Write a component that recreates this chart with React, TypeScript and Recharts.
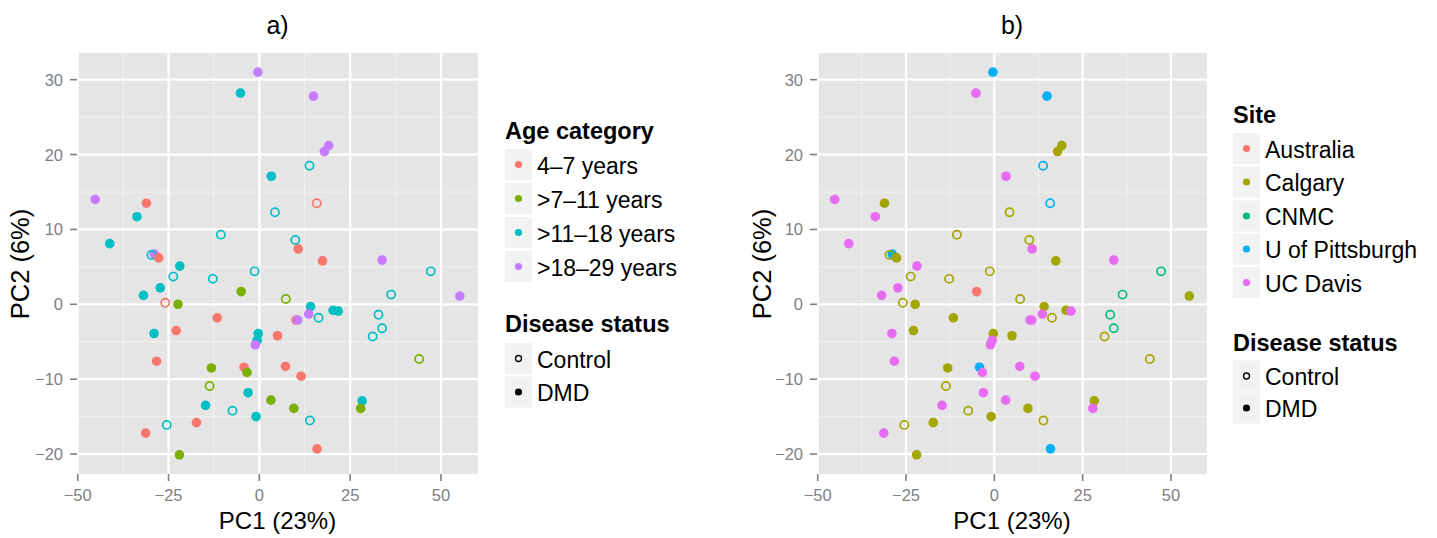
import React from 'react';
import { ScatterChart, Scatter, XAxis, YAxis, CartesianGrid } from 'recharts';

const FONT = '"Liberation Sans", Arial, Helvetica, sans-serif';

// ---- category levels ----
const A1 = '4–7 years';
const A2 = '>7–11 years';
const A3 = '>11–18 years';
const A4 = '>18–29 years';
const ageLevels = [A1, A2, A3, A4];
const ageColors = ['#F8766D', '#7CAE00', '#00BFC4', '#C77CFF'];

const AUS = 'Australia';
const CAL = 'Calgary';
const CNM = 'CNMC';
const PIT = 'U of Pittsburgh';
const UCD = 'UC Davis';
const siteLevels = [AUS, CAL, CNM, PIT, UCD];
const siteColors = ['#F8766D', '#A3A500', '#00BF7D', '#00B0F6', '#E76BF3'];

const C = 'Control';
const D = 'DMD';
const statusLevels = [C, D];

// ---- data ----
const pc1 = [
  -0.4, -5.2, 14.9, 19.1, 17.9, 13.8, 3.3, -45.2, -31.1, 15.8,
  -33.7, 4.3, -10.6, -41.2, 9.9, 10.7, -28.9, -29.7, -27.7, 17.4,
  33.8, -21.9, -23.7, -12.8, -1.3, 47.2, -27.3, -31.9, -5.0, 7.3,
  36.3, 55.2, -25.9, -22.4, 14.1, 20.3, 21.7, 32.8, 13.6, 16.3,
  10.1, 10.6, -11.6, -22.9, -29.0, -0.3, -0.6, -1.1, 5.0, 31.2,
  33.8, -28.3, 44.0, -13.2, -4.2, -3.4, 7.2, 11.5, -13.7, -3.1,
  3.2, -14.8, 9.5, 28.3, 27.9, -7.4, -0.9, 13.9, -25.5, -17.3,
  -31.3, -22.0, 15.9,
];
const pc2 = [
  31.0, 28.2, 27.8, 21.2, 20.4, 18.5, 17.1, 14.0, 13.5, 13.5,
  11.7, 12.3, 9.3, 8.1, 8.6, 7.4, 6.7, 6.6, 6.2, 5.8,
  5.9, 5.1, 3.7, 3.4, 4.4, 4.4, 2.2, 1.2, 1.7, 0.7,
  1.3, 1.1, 0.2, 0.0, -0.3, -0.8, -0.9, -1.4, -1.3, -1.8,
  -2.1, -2.1, -1.8, -3.5, -3.9, -3.9, -4.8, -5.4, -4.2, -4.3,
  -3.2, -7.6, -7.3, -8.5, -8.4, -9.1, -8.3, -9.6, -10.9, -11.8,
  -12.8, -13.5, -13.9, -12.9, -13.9, -14.2, -15.0, -15.5, -16.1, -15.8,
  -17.2, -20.1, -19.3,
];
const ageCategory = [
  A4, A3, A4, A4, A4, A3, A3, A4, A1, A1,
  A3, A3, A3, A3, A3, A1, A4, A3, A1, A1,
  A4, A3, A3, A3, A3, A3, A3, A3, A2, A2,
  A3, A4, A1, A2, A3, A3, A3, A3, A4, A3,
  A1, A4, A1, A1, A3, A3, A3, A4, A1, A3,
  A3, A1, A2, A2, A1, A2, A1, A1, A2, A3,
  A2, A3, A2, A3, A2, A3, A3, A3, A3, A1,
  A1, A2, A1,
];
const site = [
  PIT, UCD, PIT, CAL, CAL, PIT, UCD, UCD, CAL, PIT,
  UCD, CAL, CAL, UCD, CAL, UCD, PIT, CAL, CAL, CAL,
  UCD, UCD, CAL, CAL, CAL, CNM, UCD, UCD, AUS, CAL,
  CNM, CAL, CAL, CAL, CAL, CAL, UCD, CNM, UCD, CAL,
  UCD, UCD, CAL, CAL, UCD, CAL, UCD, UCD, CAL, CAL,
  CNM, UCD, CAL, CAL, PIT, UCD, UCD, UCD, CAL, UCD,
  UCD, UCD, CAL, CAL, UCD, CAL, CAL, CAL, CAL, CAL,
  UCD, CAL, PIT,
];
const diseaseStatus = [
  D, D, D, D, D, C, D, D, D, C,
  D, C, C, D, C, D, D, C, D, D,
  D, D, C, C, C, C, D, D, D, C,
  C, D, C, D, D, D, D, C, D, C,
  D, D, D, D, D, D, D, D, D, C,
  C, D, C, D, D, D, D, D, C, D,
  D, D, D, D, D, C, D, C, C, D,
  D, D, D,
];

const xTicks = [-50, -25, 0, 25, 50];
const yTicks = [-20, -10, 0, 10, 20, 30];
const xMinor = [-37.5, -12.5, 12.5, 37.5];
const yMinor = [-15, -5, 5, 15, 25];
const xDomain = [-50.2, 60.2];
const yDomain = [-22.66, 33.56];

const points = pc1.map((x, i) => ({
  x,
  y: pc2[i],
  age: ageCategory[i],
  site: site[i],
  status: diseaseStatus[i],
}));

const fmt = (v: number) => String(v).replace('-', '\u2212');
const TICK_COLOR = '#7F7F7F';

const XTick = (props: any) => {
  const { x, y, payload } = props;
  return (
    <text x={x} y={y + 20} textAnchor="middle" fill={TICK_COLOR} fontSize={16.5} fontFamily={FONT}>
      {fmt(payload.value)}
    </text>
  );
};
const YTick = (props: any) => {
  const { x, y, payload } = props;
  return (
    <text x={x} y={y + 6} textAnchor="end" fill={TICK_COLOR} fontSize={16.5} fontFamily={FONT}>
      {fmt(payload.value)}
    </text>
  );
};

function makeShape(colorOf: (p: any) => string) {
  return (props: any) => {
    const { cx, cy, payload } = props;
    const col = colorOf(payload);
    if (payload.status === C) {
      return <circle cx={cx} cy={cy} r={4.1} fill="none" stroke={col} strokeWidth={1.7} />;
    }
    return <circle cx={cx} cy={cy} r={4.8} fill={col} stroke="none" />;
  };
}

function Panel({ left, width, rightMargin, colorOf }: any) {
  return (
    <div style={{ position: 'absolute', left, top: 0 }}>
      <ScatterChart width={width} height={538} margin={{ top: 53, right: rightMargin, bottom: 14, left: 27 }}>
        <CartesianGrid fill="#E5E5E5" stroke="#F2F2F2" strokeWidth={1} horizontalValues={yMinor} verticalValues={xMinor} />
        <CartesianGrid stroke="#FFFFFF" strokeWidth={2.2} horizontalValues={yTicks} verticalValues={xTicks} />
        <XAxis
          type="number"
          dataKey="x"
          domain={xDomain}
          ticks={xTicks}
          allowDataOverflow
          axisLine={false}
          tickLine={{ stroke: TICK_COLOR, strokeWidth: 1.6 }}
          tickSize={7}
          tickMargin={0}
          height={50}
          interval={0}
          tick={XTick}
        />
        <YAxis
          type="number"
          dataKey="y"
          domain={yDomain}
          ticks={yTicks}
          allowDataOverflow
          axisLine={false}
          tickLine={{ stroke: TICK_COLOR, strokeWidth: 1.6 }}
          tickSize={7}
          tickMargin={7}
          width={50}
          interval={0}
          tick={YTick}
        />
        <Scatter data={points} isAnimationActive={false} shape={makeShape(colorOf)} />
      </ScatterChart>
    </div>
  );
}

function LegendBlock({ x, titleY, title, items, colors, rowCenters, statusTitleY, statusCenters }: any) {
  return (
    <g fontFamily={FONT}>
      <text x={x} y={titleY} fontSize={23.5} fontWeight="bold" fill="#000">{title}</text>
      {items.map((it: string, i: number) => (
        <g key={it}>
          <rect x={x} y={rowCenters[i] - 15.5} width={27} height={31} fill="#F2F2F2" />
          <circle cx={x + 13.5} cy={rowCenters[i]} r={3.6} fill={colors[i]} />
          <text x={x + 32} y={rowCenters[i] + 9} fontSize={23} fill="#000">{it}</text>
        </g>
      ))}
      <text x={x} y={statusTitleY} fontSize={23.5} fontWeight="bold" fill="#000">Disease status</text>
      {statusLevels.map((s, i) => (
        <g key={s}>
          <rect x={x} y={statusCenters[i] - 15.5} width={27} height={31} fill="#F2F2F2" />
          {s === C ? (
            <circle cx={x + 13.5} cy={statusCenters[i]} r={3} fill="none" stroke="#000" strokeWidth={1.3} />
          ) : (
            <circle cx={x + 13.5} cy={statusCenters[i]} r={3.6} fill="#000" />
          )}
          <text x={x + 32} y={statusCenters[i] + 9} fontSize={23} fill="#000">{s}</text>
        </g>
      ))}
    </g>
  );
}

export default function App() {
  const ageColor = (p: any) => ageColors[ageLevels.indexOf(p.age)];
  const siteColor = (p: any) => siteColors[siteLevels.indexOf(p.site)];
  return (
    <div style={{ position: 'absolute', left: 0, top: 0, width: 1437, height: 538, background: '#fff', overflow: 'hidden' }}>
      <Panel left={0} width={490} rightMargin={12} colorOf={ageColor} />
      <Panel left={740} width={480} rightMargin={13} colorOf={siteColor} />
      <svg width={1437} height={538} style={{ position: 'absolute', left: 0, top: 0, pointerEvents: 'none' }}>
        <g fontFamily={FONT} fill="#000">
          <text x={277.5} y={34} textAnchor="middle" fontSize={25}>a)</text>
          <text x={1012} y={34} textAnchor="middle" fontSize={25}>b)</text>
          <text x={277.5} y={529} textAnchor="middle" fontSize={24}>PC1 (23%)</text>
          <text x={1012} y={529} textAnchor="middle" fontSize={24}>PC1 (23%)</text>
          <text transform="translate(29,264) rotate(-90)" textAnchor="middle" fontSize={25.5}>PC2 (6%)</text>
          <text transform="translate(771,264) rotate(-90)" textAnchor="middle" fontSize={25.5}>PC2 (6%)</text>
        </g>
        <LegendBlock
          x={505}
          titleY={139}
          title="Age category"
          items={ageLevels}
          colors={ageColors}
          rowCenters={[164.5, 198.5, 232.5, 266.5]}
          statusTitleY={332}
          statusCenters={[358.5, 392]}
        />
        <LegendBlock
          x={1233}
          titleY={123}
          title="Site"
          items={siteLevels}
          colors={siteColors}
          rowCenters={[148.5, 182, 216, 249, 282.5]}
          statusTitleY={351}
          statusCenters={[376, 408]}
        />
      </svg>
    </div>
  );
}
